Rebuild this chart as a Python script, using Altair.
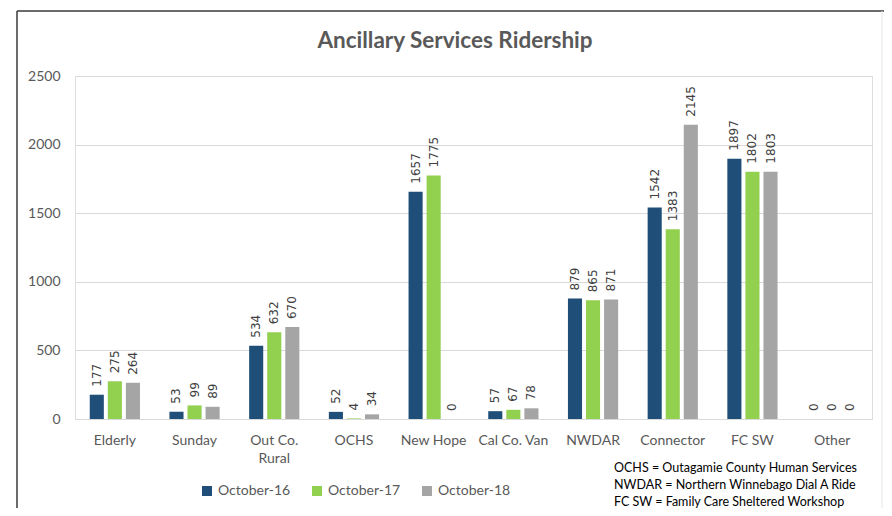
import altair as alt
import pandas as pd

categories = ["Elderly", "Sunday", "Out Co. Rural", "OCHS", "New Hope",
              "Cal Co. Van", "NWDAR", "Connector", "FC SW", "Other"]
series = ["October-16", "October-17", "October-18"]
oct16 = [177, 53, 534, 52, 1657, 57, 879, 1542, 1897, 0]
oct17 = [275, 99, 632, 4, 1775, 67, 865, 1383, 1802, 0]
oct18 = [264, 89, 670, 34, 0, 78, 871, 2145, 1803, 0]
colors = ["#1F4E79", "#92D050", "#A5A5A5"]
title_text = "Ancillary Services Ridership"
notes = ["OCHS = Outagamie County Human Services",
         "NWDAR = Northern Winnebago Dial A Ride",
         "FC SW = Family Care Sheltered Workshop"]

rows = []
for s, vals in zip(series, [oct16, oct17, oct18]):
    for c, v in zip(categories, vals):
        rows.append({"Category": c, "Series": s, "Value": v})
df = pd.DataFrame(rows)

FONT = "Lato"
GRAY = "#595959"

x_enc = alt.X("Category:N", sort=categories, title=None,
              scale=alt.Scale(paddingInner=0.32, paddingOuter=0.16),
              axis=alt.Axis(labelAngle=0, ticks=False, domainColor="#D9D9D9",
                            labelFont=FONT, labelFontSize=14, labelColor=GRAY,
                            labelPadding=14, labelLineHeight=18, labelBaseline="top",
                            labelExpr="datum.label == 'Out Co. Rural' ? ['Out Co.', 'Rural'] : datum.label"))
xo_enc = alt.XOffset("Series:N", sort=series,
                     scale=alt.Scale(paddingInner=0.22, paddingOuter=0.11))
y_enc = alt.Y("Value:Q", title=None,
              scale=alt.Scale(domain=[0, 2500], nice=False),
              axis=alt.Axis(values=[0, 500, 1000, 1500, 2000, 2500], ticks=False,
                            domain=False, gridColor="#D9D9D9", labelFont=FONT, format="d",
                            labelFontSize=14, labelColor=GRAY, labelPadding=15))

base = alt.Chart(df)
bars = base.mark_bar().encode(
    x=x_enc, xOffset=xo_enc, y=y_enc,
    color=alt.Color("Series:N", sort=series,
                    scale=alt.Scale(domain=series, range=colors),
                    legend=alt.Legend(title=None, orient="none", direction="horizontal",
                                      legendX=125, legendY=408, symbolType="square",
                                      symbolSize=100, symbolStrokeWidth=0,
                                      labelFont=FONT, labelFontSize=14, labelColor=GRAY,
                                      labelOffset=4, columnPadding=19)),
)
labels = base.mark_text(angle=270, align="left", baseline="middle", dx=8,
                        font="DejaVu Sans", fontSize=12, color="#404040").encode(
    x=alt.X("Category:N", sort=categories), xOffset=alt.XOffset("Series:N", sort=series),
    y="Value:Q", text="Value:Q")

one = pd.DataFrame({"a": [0]})
title = alt.Chart(one).mark_text(align="center", baseline="middle", font=FONT,
                                 fontSize=22.5, fontWeight="bold", color=GRAY).encode(
    x=alt.value(380), y=alt.value(-35), text=alt.value(title_text))
note = alt.Chart(one).mark_text(align="left", baseline="middle", font=FONT,
                                fontSize=12.5, color="#000000", lineHeight=17).encode(
    x=alt.value(539), y=alt.value(392), text=alt.value(notes))
frame_left = alt.Chart(one).mark_rule(color="#3A3A3A", strokeWidth=1.5).encode(
    x=alt.value(-58), y=alt.value(-65), y2=alt.value(450))
frame_top = alt.Chart(one).mark_rule(color="#3A3A3A", strokeWidth=1.5).encode(
    x=alt.value(-58), x2=alt.value(830), y=alt.value(-65))
frame_right = alt.Chart(one).mark_rule(color="#E6E6E6", strokeWidth=1).encode(
    x=alt.value(807), y=alt.value(-65), y2=alt.value(450))

chart = alt.layer(bars, labels, title, note, frame_left, frame_top, frame_right).properties(
    width=797, height=343,
    autosize=alt.AutoSizeParams(type="none"),
    padding={"left": 67, "top": 68, "right": 12, "bottom": 89},
).configure_view(stroke=None).configure(background="white")

chart.save("out.html", embed_options={"renderer": "svg", "actions": False})
